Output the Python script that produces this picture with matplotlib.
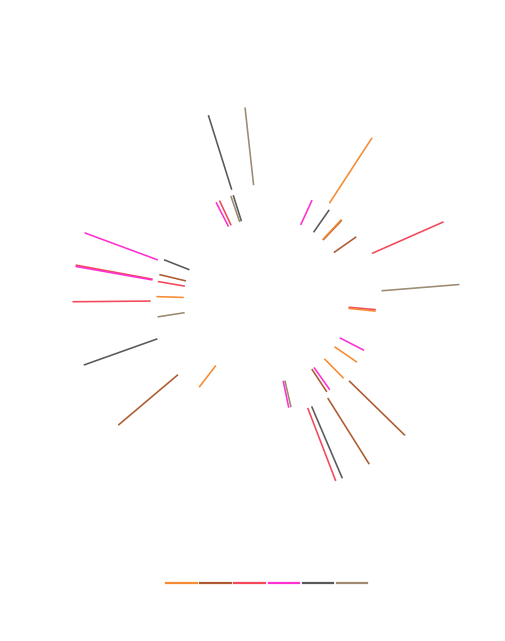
import numpy as np
import matplotlib
matplotlib.use("Agg")
import matplotlib.pyplot as plt
from matplotlib.lines import Line2D

# ***** Data ***** #

colors = ["#f68b33", "#ad5a31", "#f2485a", "#ff2fd0", "#58595b", "#9d8a70"]
# drawing order (higher on top)
layer = [7, 2, 3, 4, 5, 6]

# ring radii (0-100 scale): inner ring and outer ring
ring_inner = [41.3, 55.0]
ring_outer = [57.8, 96.9]

# one segment per entry: angle in degrees (clockwise from north), ring, category
seg_angle = [33.1, 43.0, 95.8, 124.4, 135.3, 217.6, 271.8,
             134.3, 147.9, 229.8, 43.4, 54.9, 146.6, 283.4,
             66.2, 159.0, 269.5, 280.4, 95.0, 279.7, 334.8,
             280.0, 290.3, 24.6, 117.2, 144.7, 168.2, 332.8,
             156.9, 250.4, 342.6, 34.9, 291.5, 342.5,
             85.4, 353.7, 167.0, 261.2, 341.2]
seg_ring = [1, 0, 0, 0, 0, 0, 0,
            1, 1, 1, 0, 0, 0, 0,
            1, 1, 1, 1, 0, 0, 0,
            1, 1, 0, 0, 0, 0, 0,
            1, 1, 1, 0, 0, 0,
            1, 1, 0, 0, 0]
seg_cat = [0] * 7 + [1] * 7 + [2] * 7 + [3] * 7 + [4] * 6 + [5] * 5

rings = [ring_inner, ring_outer]

fig = plt.figure(figsize=(5.05, 6.41), dpi=100)
ax = fig.add_axes([0.1313, 0.2199, 0.792, 0.624], projection='polar')
ax.set_theta_zero_location('N')
ax.set_theta_direction(-1)
ax.set_ylim(0, 100)
ax.axis('off')

for a, lvl, c in zip(seg_angle, seg_ring, seg_cat):
    th = np.deg2rad(a)
    ax.plot([th, th], rings[lvl], color=colors[c], linewidth=1.15,
            solid_capstyle='butt', zorder=layer[c])

handles = [Line2D([0], [0], color=col, linewidth=1.6) for col in colors]
fig.legend(handles, [''] * len(colors), loc='center', bbox_to_anchor=(0.528, 0.0889),
           ncol=len(colors), frameon=False, handlelength=2.18, handletextpad=0,
           columnspacing=0.27)

fig.savefig("out.png", dpi=100)
